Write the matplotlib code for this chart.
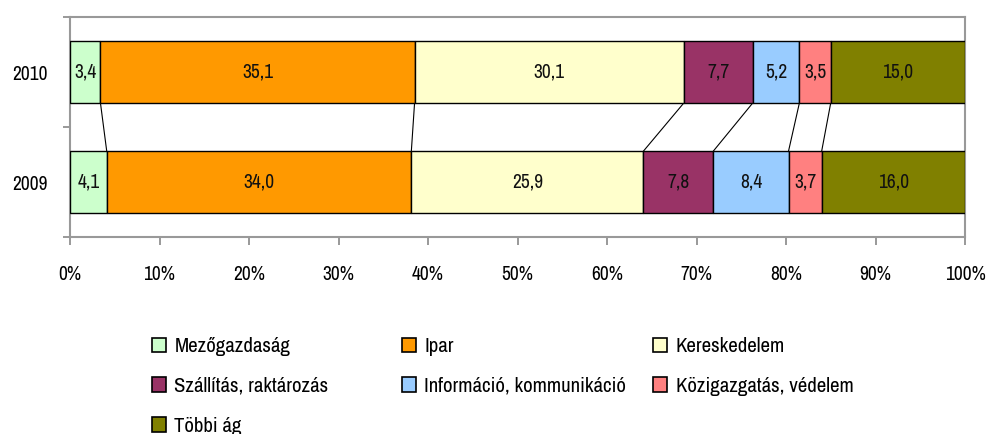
import matplotlib.pyplot as plt
import numpy as np
from matplotlib import font_manager
from matplotlib.patches import Patch

# narrow Arial-like face, first one that is installed
available = {f.name for f in font_manager.fontManager.ttflist}
candidates = ["Arial Narrow", "Liberation Sans Narrow", "Archivo Narrow", "PT Sans Narrow",
              "Roboto Condensed", "Pragati Narrow", "Liberation Sans"]
face = next(c for c in candidates + ["DejaVu Sans"] if c in available or c == "DejaVu Sans")
plt.rcParams['font.family'] = [face, 'DejaVu Sans']

years = ["2009", "2010"]
sectors = ["Mezőgazdaság", "Ipar", "Kereskedelem", "Szállítás, raktározás",
           "Információ, kommunikáció", "Közigazgatás, védelem", "Többi ág"]
values_2009 = [4.1, 34.0, 25.9, 7.8, 8.4, 3.7, 16.0]
values_2010 = [3.4, 35.1, 30.1, 7.7, 5.2, 3.5, 15.0]
colors = ["#CCFFCC", "#FF9900", "#FFFFCC", "#993366", "#99CCFF", "#FF8080", "#808000"]
xticks = [0, 10, 20, 30, 40, 50, 60, 70, 80, 90, 100]

FS = 14

data = np.array([values_2009, values_2010])
shares = data / data.sum(axis=1, keepdims=True) * 100
ypos = np.arange(len(years))
height = 0.56

fig = plt.figure(figsize=(9.89, 4.34), dpi=100)
ax = fig.add_axes([70 / 989, 1 - 237 / 434, 895 / 989, 220 / 434])

left = np.zeros(len(years))
for i, name in enumerate(sectors):
    bars = ax.barh(ypos, shares[:, i], left=left, height=height, color=colors[i],
                   edgecolor="black", linewidth=1.0, label=name, zorder=3)
    ax.bar_label(bars, labels=[f"{v:.1f}".replace(".", ",") for v in data[:, i]],
                 label_type="center", fontsize=FS, color="#111111")
    left += shares[:, i]

# series lines between the bars
cum = np.cumsum(shares, axis=1)
for j in range(len(sectors) - 1):
    ax.plot([cum[1, j], cum[0, j]], [1 - height / 2, height / 2],
            color="black", linewidth=0.8, zorder=2)

ax.set_xlim(0, 100)
ax.set_ylim(-0.5, 1.5)
ax.set_xticks(xticks)
ax.set_xticklabels([f"{t}%" for t in xticks], fontsize=FS)
ax.set_yticks([-0.5, 0.5, 1.5])
ax.set_yticks(ypos, minor=True)
ax.set_yticklabels(["", "", ""])
ax.set_yticklabels(years, minor=True, fontsize=FS)
ax.tick_params(axis="y", which="minor", length=0, pad=16)
ax.tick_params(axis="y", which="major", length=5, width=1.2, color="#888888")
ax.tick_params(axis="x", length=6, width=1.2, color="#888888", pad=14)
for s in ax.spines.values():
    s.set_color("#999999")
    s.set_linewidth(1.5)

# legend in three columns of unequal width
handles = [Patch(facecolor=c, edgecolor="black", linewidth=1.2) for c in colors]
cols = [[0, 3, 6], [1, 4], [2, 5]]
xs = [152, 402, 653]
for col, x in zip(cols, xs):
    fig.legend([handles[k] for k in col], [sectors[k] for k in col],
               loc="upper left", bbox_to_anchor=(x / 989, 1 - 337 / 434),
               frameon=False, fontsize=15, handlelength=0.68, handleheight=0.68,
               handletextpad=0.4, labelspacing=1.0, borderpad=0, borderaxespad=0)

fig.savefig("out.png", dpi=100)
